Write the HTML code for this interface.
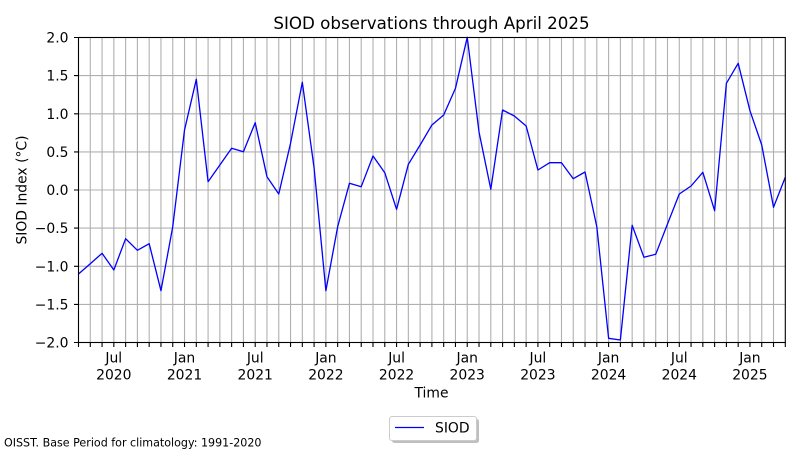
<!DOCTYPE html>
<html><head><meta charset="utf-8"><style>
html,body{margin:0;padding:0;background:#fff;}
svg{display:block;font-family:"DejaVu Sans","Liberation Sans",sans-serif;}
</style></head><body>
<svg width="800" height="450" viewBox="0 0 800 450" xmlns="http://www.w3.org/2000/svg">
<rect width="800" height="450" fill="#fff"/>
<text x="431.5" y="29" font-size="16.7" text-anchor="middle" fill="#000">SIOD observations through April 2025</text>
<!-- grid -->
<g stroke="#b0b0b0" stroke-width="1.1">
<g transform="translate(78.5,0) scale(11.78,1)">
<path vector-effect="non-scaling-stroke" d="M1 37.5V342.5M2 37.5V342.5M3 37.5V342.5M4 37.5V342.5M5 37.5V342.5M6 37.5V342.5M7 37.5V342.5M8 37.5V342.5M9 37.5V342.5M10 37.5V342.5M11 37.5V342.5M12 37.5V342.5M13 37.5V342.5M14 37.5V342.5M15 37.5V342.5M16 37.5V342.5M17 37.5V342.5M18 37.5V342.5M19 37.5V342.5M20 37.5V342.5M21 37.5V342.5M22 37.5V342.5M23 37.5V342.5M24 37.5V342.5M25 37.5V342.5M26 37.5V342.5M27 37.5V342.5M28 37.5V342.5M29 37.5V342.5M30 37.5V342.5M31 37.5V342.5M32 37.5V342.5M33 37.5V342.5M34 37.5V342.5M35 37.5V342.5M36 37.5V342.5M37 37.5V342.5M38 37.5V342.5M39 37.5V342.5M40 37.5V342.5M41 37.5V342.5M42 37.5V342.5M43 37.5V342.5M44 37.5V342.5M45 37.5V342.5M46 37.5V342.5M47 37.5V342.5M48 37.5V342.5M49 37.5V342.5M50 37.5V342.5M51 37.5V342.5M52 37.5V342.5M53 37.5V342.5M54 37.5V342.5M55 37.5V342.5M56 37.5V342.5M57 37.5V342.5M58 37.5V342.5M59 37.5V342.5"/>
</g>
<path d="M78.5 75.6H785.3M78.5 113.8H785.3M78.5 151.9H785.3M78.5 190H785.3M78.5 228.1H785.3M78.5 266.3H785.3M78.5 304.4H785.3"/>
</g>
<!-- ticks -->
<g stroke="#000" stroke-width="1.1">
<g transform="translate(78.5,0) scale(11.78,1)">
<path vector-effect="non-scaling-stroke" d="M0 342.5V347M1 342.5V347M2 342.5V347M3 342.5V347M4 342.5V347M5 342.5V347M6 342.5V347M7 342.5V347M8 342.5V347M9 342.5V347M10 342.5V347M11 342.5V347M12 342.5V347M13 342.5V347M14 342.5V347M15 342.5V347M16 342.5V347M17 342.5V347M18 342.5V347M19 342.5V347M20 342.5V347M21 342.5V347M22 342.5V347M23 342.5V347M24 342.5V347M25 342.5V347M26 342.5V347M27 342.5V347M28 342.5V347M29 342.5V347M30 342.5V347M31 342.5V347M32 342.5V347M33 342.5V347M34 342.5V347M35 342.5V347M36 342.5V347M37 342.5V347M38 342.5V347M39 342.5V347M40 342.5V347M41 342.5V347M42 342.5V347M43 342.5V347M44 342.5V347M45 342.5V347M46 342.5V347M47 342.5V347M48 342.5V347M49 342.5V347M50 342.5V347M51 342.5V347M52 342.5V347M53 342.5V347M54 342.5V347M55 342.5V347M56 342.5V347M57 342.5V347M58 342.5V347M59 342.5V347M60 342.5V347"/>
</g>
<path d="M74 37.5H78.5M74 75.6H78.5M74 113.8H78.5M74 151.9H78.5M74 190H78.5M74 228.1H78.5M74 266.3H78.5M74 304.4H78.5M74 342.5H78.5"/>
</g>
<!-- data -->
<g transform="translate(78.5,0) scale(11.78,1)">
<polyline vector-effect="non-scaling-stroke" fill="none" stroke="#0000ff" stroke-width="1.3" stroke-linejoin="round" points="0,274 1,263.7 2,253.3 3,270 4,238.7 5,250.3 6,243.7 7,290.7 8,226.7 9,130 10,79.3 11,181.7 12,165 13,148.3 14,151.7 15,122.7 16,176.7 17,194 18,143.3 19,82.3 20,168 21,290.7 22,226.7 23,183.3 24,186.7 25,156 26,172.7 27,209.3 28,164.3 29,145 30,125 31,115 32,88.3 33,37.3 34,132 35,189.3 36,110 37,116 38,126 39,170 40,162.7 41,162.7 42,178.7 43,172 44,226.7 45,338.3 46,340 47,225.3 48,257.3 49,254.3 50,224 51,194 52,186 53,172.3 54,210.7 55,83.3 56,63.3 57,110.7 58,145 59,207.3 60,177.3"/>
</g>
<!-- spines -->
<rect x="78.5" y="37.5" width="706.8" height="305" fill="none" stroke="#000" stroke-width="1.1"/>
<!-- y tick labels -->
<g font-size="13.9" text-anchor="end" fill="#000">
<text x="68.5" y="42.5">2.0</text>
<text x="68.5" y="80.6">1.5</text>
<text x="68.5" y="118.8">1.0</text>
<text x="68.5" y="156.9">0.5</text>
<text x="68.5" y="195">0.0</text>
<text x="68.5" y="233.1">−0.5</text>
<text x="68.5" y="271.3">−1.0</text>
<text x="68.5" y="309.4">−1.5</text>
<text x="68.5" y="347.5">−2.0</text>
</g>
<!-- x tick labels -->
<g font-size="13.9" text-anchor="middle" fill="#000">
<text x="113.8" y="362.6">Jul</text><text x="113.8" y="379.3">2020</text>
<text x="184.5" y="362.6">Jan</text><text x="184.5" y="379.3">2021</text>
<text x="255.2" y="362.6">Jul</text><text x="255.2" y="379.3">2021</text>
<text x="325.9" y="362.6">Jan</text><text x="325.9" y="379.3">2022</text>
<text x="396.6" y="362.6">Jul</text><text x="396.6" y="379.3">2022</text>
<text x="467.2" y="362.6">Jan</text><text x="467.2" y="379.3">2023</text>
<text x="537.9" y="362.6">Jul</text><text x="537.9" y="379.3">2023</text>
<text x="608.6" y="362.6">Jan</text><text x="608.6" y="379.3">2024</text>
<text x="679.3" y="362.6">Jul</text><text x="679.3" y="379.3">2024</text>
<text x="749.9" y="362.6">Jan</text><text x="749.9" y="379.3">2025</text>
</g>
<text x="431.5" y="397.7" font-size="13.9" text-anchor="middle" fill="#000">Time</text>
<text transform="translate(26.3,190) rotate(-90)" font-size="13.9" text-anchor="middle" fill="#000">SIOD Index (°C)</text>
<!-- legend -->
<rect x="392" y="419" width="87" height="24" rx="2.5" fill="#808080" opacity="0.5"/>
<rect x="389.5" y="416.5" width="87" height="24" rx="2.5" fill="#fff" stroke="#cccccc" stroke-width="1"/>
<line x1="395" y1="427.5" x2="424" y2="427.5" stroke="#0000ff" stroke-width="1.3"/>
<text x="435" y="432.5" font-size="13.9" fill="#000">SIOD</text>
<text x="4" y="446.5" font-size="11.1" fill="#000">OISST. Base Period for climatology: 1991-2020</text>
</svg>
</body></html>
